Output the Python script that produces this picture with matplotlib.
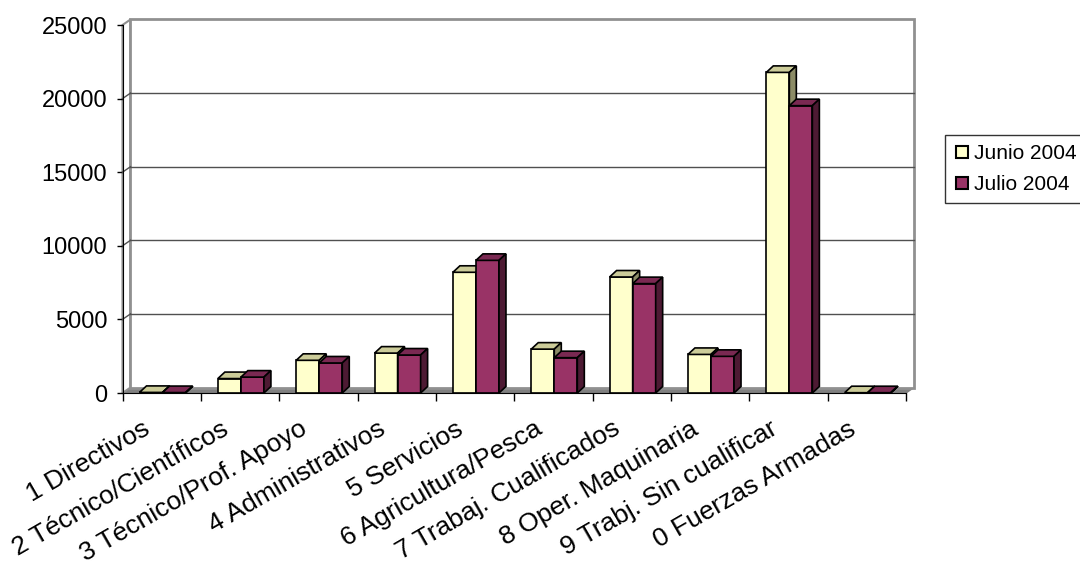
import numpy as np
import matplotlib
matplotlib.use("Agg")
import matplotlib.pyplot as plt
from matplotlib.patches import Polygon
from matplotlib.lines import Line2D

plt.rcParams['font.family'] = ['Liberation Sans', 'DejaVu Sans']

categories = ["1 Directivos", "2 Técnico/Científicos", "3 Técnico/Prof. Apoyo",
              "4 Administrativos", "5 Servicios", "6 Agricultura/Pesca",
              "7 Trabaj. Cualificados", "8 Oper. Maquinaria",
              "9 Trabj. Sin cualificar", "0 Fuerzas Armadas"]
junio = [40, 980, 2220, 2710, 8200, 2980, 7880, 2620, 21780, 20]
julio = [30, 1080, 2040, 2580, 9010, 2400, 7430, 2490, 19520, 20]
series = ["Junio 2004", "Julio 2004"]
yticks = [0, 5000, 10000, 15000, 20000, 25000]

# colors: front, top, side
col_junio = ("#FFFFCC", "#CCCC99", "#8C8C66")
col_julio = ("#993366", "#7A2952", "#4D1A33")

fig = plt.figure(figsize=(10.8, 5.68), dpi=100)
ax = fig.add_axes([122.5/1080, 1-393/568, (906-122.5)/1080, (393-25)/568])
ax.set_xlim(0, 10)
ax.set_ylim(0, 25000)

# depth of walls / bars in data units
wdx, wdy = 8/78.4, 5.5/73.6*5000
bdx, bdy = 7/78.4, 6.5/73.6*5000

# floor
ax.add_patch(Polygon([(0, 0), (10, 0), (10+wdx, wdy), (wdx, wdy)],
                     closed=True, fc="#808080", ec="#808080", lw=1, clip_on=False, zorder=1))
# side wall
ax.add_patch(Polygon([(0, 0), (wdx, wdy), (wdx, 25000+wdy), (0, 25000)],
                     closed=True, fc="white", ec="#909090", lw=1.5, clip_on=False, zorder=1))
# back wall
ax.add_patch(Polygon([(wdx, wdy), (10+wdx, wdy), (10+wdx, 25000+wdy), (wdx, 25000+wdy)],
                     closed=True, fc="white", ec="#909090", lw=2, clip_on=False, zorder=1))
for v in yticks[1:-1]:
    ax.plot([wdx, 10+wdx], [v+wdy, v+wdy], color="#505050", lw=1, clip_on=False, zorder=2)
    ax.plot([0, wdx], [v, v+wdy], color="#505050", lw=1, clip_on=False, zorder=2)


def bar3d(x0, w, h, cols):
    front = Polygon([(x0, 0), (x0+w, 0), (x0+w, h), (x0, h)], closed=True,
                    fc=cols[0], ec="black", lw=1.2, zorder=3, clip_on=False)
    top = Polygon([(x0, h), (x0+w, h), (x0+w+bdx, h+bdy), (x0+bdx, h+bdy)], closed=True,
                  fc=cols[1], ec="black", lw=1.2, zorder=3, clip_on=False)
    side = Polygon([(x0+w, 0), (x0+w+bdx, bdy), (x0+w+bdx, h+bdy), (x0+w, h)], closed=True,
                   fc=cols[2], ec="black", lw=1.2, zorder=3, clip_on=False)
    for p in (front, top, side):
        ax.add_patch(p)


bw = 0.294
for i in range(len(categories)):
    bar3d(i+0.217, bw, junio[i], col_junio)
    bar3d(i+0.217+bw, bw, julio[i], col_julio)

for s in ["top", "right"]:
    ax.spines[s].set_visible(False)
ax.spines["left"].set_color("black")
ax.spines["bottom"].set_color("black")
ax.spines["left"].set_zorder(5)
ax.spines["bottom"].set_zorder(5)

ax.set_yticks(yticks)
ax.set_yticklabels([str(v) for v in yticks], fontsize=17)
ax.tick_params(axis="y", length=4.5, width=1, pad=6.5, direction="out")
ax.set_xticks(np.arange(0, 11))
ax.set_xticklabels([])
ax.tick_params(axis="x", length=5.8, width=1, direction="out")

for i, lab in enumerate(categories):
    ax.annotate(lab, xy=(i+0.5, 0), xycoords="data",
                xytext=(-14, -17), textcoords="offset points",
                ha="right", va="top", rotation=30, rotation_mode="anchor",
                fontsize=19)

handles = [Line2D([], [], ls="none", marker="s", markersize=8, markerfacecolor=col_junio[0],
                  markeredgecolor="black", markeredgewidth=1.5),
           Line2D([], [], ls="none", marker="s", markersize=8, markerfacecolor=col_julio[0],
                  markeredgecolor="black", markeredgewidth=1.5)]
leg = fig.legend(handles, series, loc="upper left", bbox_to_anchor=(945/1080, 1-135/568),
                 fontsize=15, frameon=True, fancybox=False, handlelength=0.7,
                 handletextpad=0.25, borderpad=0.45, labelspacing=0.55, borderaxespad=0)
leg.get_frame().set_edgecolor("black")
leg.get_frame().set_linewidth(1)

fig.savefig("out.png", dpi=100)
